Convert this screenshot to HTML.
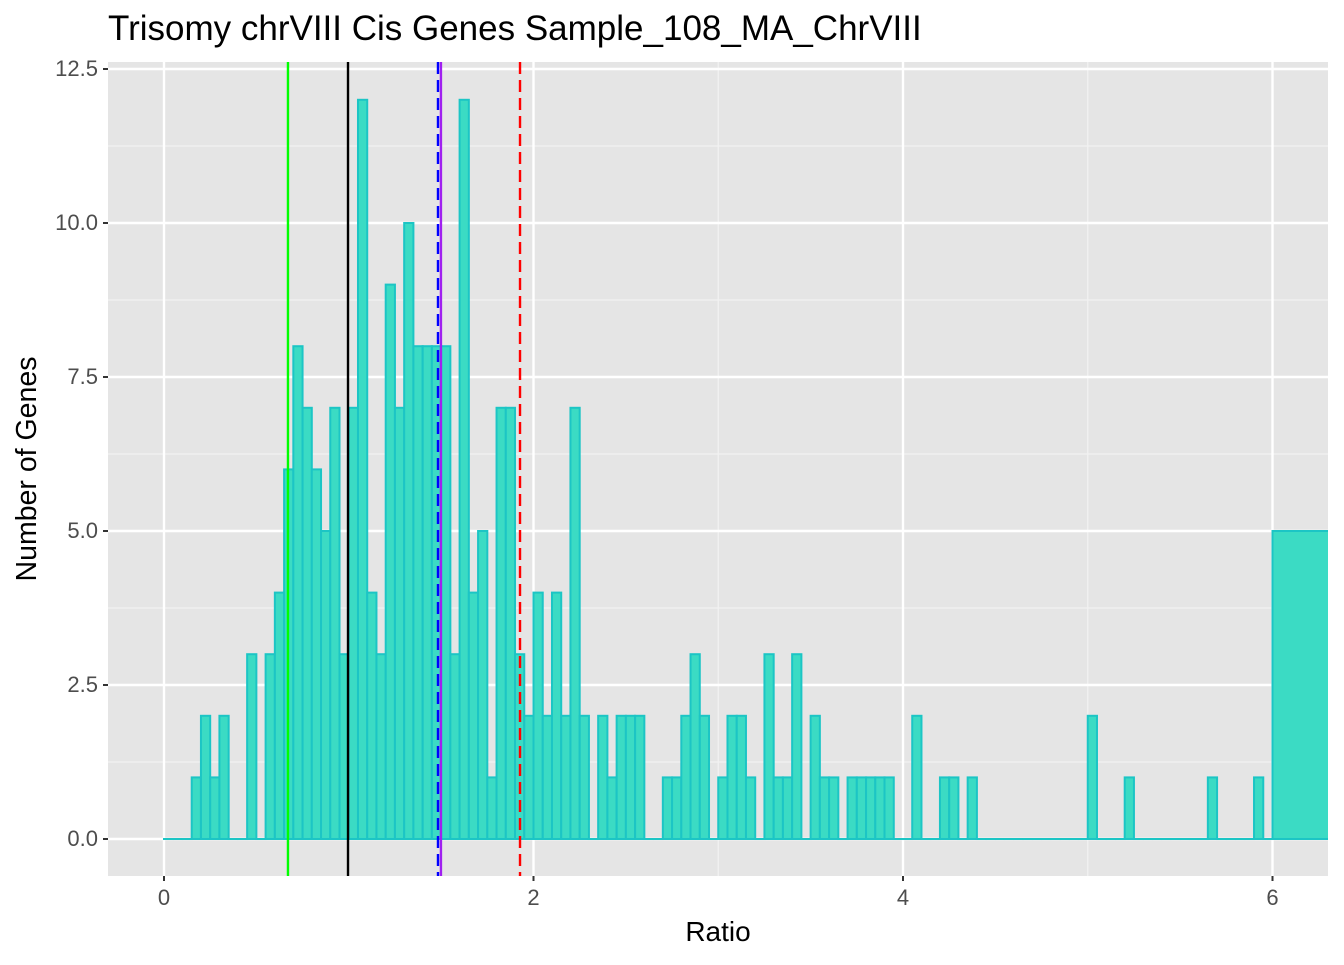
<!DOCTYPE html>
<html><head><meta charset="utf-8"><style>
body{margin:0;background:#fff;}
svg text{font-family:"Liberation Sans",Arial,sans-serif;}
</style></head><body>
<svg id="chart" width="1344" height="960" viewBox="0 0 1344 960" xmlns="http://www.w3.org/2000/svg">
<defs><clipPath id="pc"><rect x="108" y="62" width="1220" height="814"/></clipPath></defs>
<text x="108" y="40" font-size="35" fill="#000">Trisomy chrVIII Cis Genes Sample_108_MA_ChrVIII</text>
<rect x="108" y="62" width="1220" height="814" fill="#e5e5e5"/>
<g id="grid"></g>
<g id="bars" clip-path="url(#pc)"></g>
<g id="vlines"></g>
<g id="axes"></g>
<text x="718" y="941" font-size="28" text-anchor="middle" fill="#000">Ratio</text>
<text transform="translate(36,469) rotate(-90)" font-size="28.5" text-anchor="middle" fill="#000">Number of Genes</text>
</svg>
<script>
const binWidth = 0.05;
const counts = [0,0,0,1,2,1,2,0,0,3,0,3,4,6,8,7,6,5,7,3,7,12,4,3,9,7,10,8,8,8,8,3,12,4,5,1,7,7,3,2,4,2,4,2,7,2,0,2,1,2,2,2,0,0,1,1,2,3,2,0,1,2,2,1,0,3,1,1,3,0,2,1,1,0,1,1,1,1,1,0,0,2,0,0,1,1,0,1,0,0,0,0,0,0,0,0,0,0,0,0,2,0,0,0,1,0,0,0,0,0,0,0,0,1,0,0,0,0,1,0];
const overflowStart = 6;
const overflowCount = 5;
const xTicks = [0,2,4,6];
const yTicks = [0,2.5,5,7.5,10,12.5];
const yTickLabels = ["0.0","2.5","5.0","7.5","10.0","12.5"];
const vLineValues = [0.671, 0.996, 1.483, 1.499, 1.927];
const vLineNames = ["green-line","black-line","blue-dashed-line","purple-line","red-dashed-line"];

const NS="http://www.w3.org/2000/svg";
const X0=108,X1=1328,Y0=62,Y1=876;
const xs=v=>164+v*184.75;
const ys=v=>839-v*61.6;
function mk(tag,attrs,parent){const e=document.createElementNS(NS,tag);for(const k in attrs)e.setAttribute(k,attrs[k]);parent.appendChild(e);return e;}
const grid=document.getElementById('grid'),bars=document.getElementById('bars'),vl=document.getElementById('vlines'),ax=document.getElementById('axes');
for(let i=0;i<yTicks.length-1;i++){const y=ys((yTicks[i]+yTicks[i+1])/2);const l=mk('line',{x1:X0,x2:X1,y1:y,y2:y,stroke:'#f2f2f2','stroke-width':1.2},grid);}
for(let i=0;i<xTicks.length;i++){const v=xTicks[i]+1;const x=xs(v);if(x<X1){const l=mk('line',{x1:x,x2:x,y1:Y0,y2:Y1,stroke:'#f2f2f2','stroke-width':1.2},grid);}}
yTicks.forEach((t,i)=>{const y=ys(t);const l=mk('line',{x1:X0,x2:X1,y1:y,y2:y,stroke:'#fff','stroke-width':2.4},grid);
 const tk=mk('line',{x1:X0-5,x2:X0,y1:y,y2:y,stroke:'#333','stroke-width':2},ax);
 const tx=mk('text',{x:X0-10,y:y+7,'font-size':22,'text-anchor':'end',fill:'#4d4d4d'},ax);tx.textContent=yTickLabels[i];});
xTicks.forEach(t=>{const x=xs(t);const l=mk('line',{x1:x,x2:x,y1:Y0,y2:Y1,stroke:'#fff','stroke-width':2.4},grid);
 const tk=mk('line',{x1:x,x2:x,y1:Y1,y2:Y1+5,stroke:'#333','stroke-width':2},ax);
 const tx=mk('text',{x:x,y:Y1+29,'font-size':22,'text-anchor':'middle',fill:'#4d4d4d'},ax);tx.textContent=String(t);});
counts.forEach((c,i)=>{const xa=xs(i*binWidth),xb=xs((i+1)*binWidth);const r=mk('rect',{x:xa,y:ys(c),width:xb-xa,height:Math.max(ys(0)-ys(c),0.01),fill:'#3bdbc4',stroke:'#1cc5c5','stroke-width':2},bars);
 
 });
const ob=mk('rect',{x:xs(overflowStart),y:ys(overflowCount),width:200,height:ys(0)-ys(overflowCount),fill:'#3bdbc4',stroke:'#1cc5c5','stroke-width':2},bars);


const styles=[{c:'#00ff00',d:''},{c:'#000',d:''},{c:'#0000ff',d:'12,6'},{c:'#a020f0',d:''},{c:'#ff0000',d:'12,6'}];
vLineValues.forEach((v,i)=>{const x=xs(v);const a={x1:x,x2:x,y1:Y0,y2:Y1,stroke:styles[i].c,'stroke-width':2.4};if(styles[i].d)a['stroke-dasharray']=styles[i].d;const l=mk('line',a,vl);
 
 });
</script>
</body></html>
